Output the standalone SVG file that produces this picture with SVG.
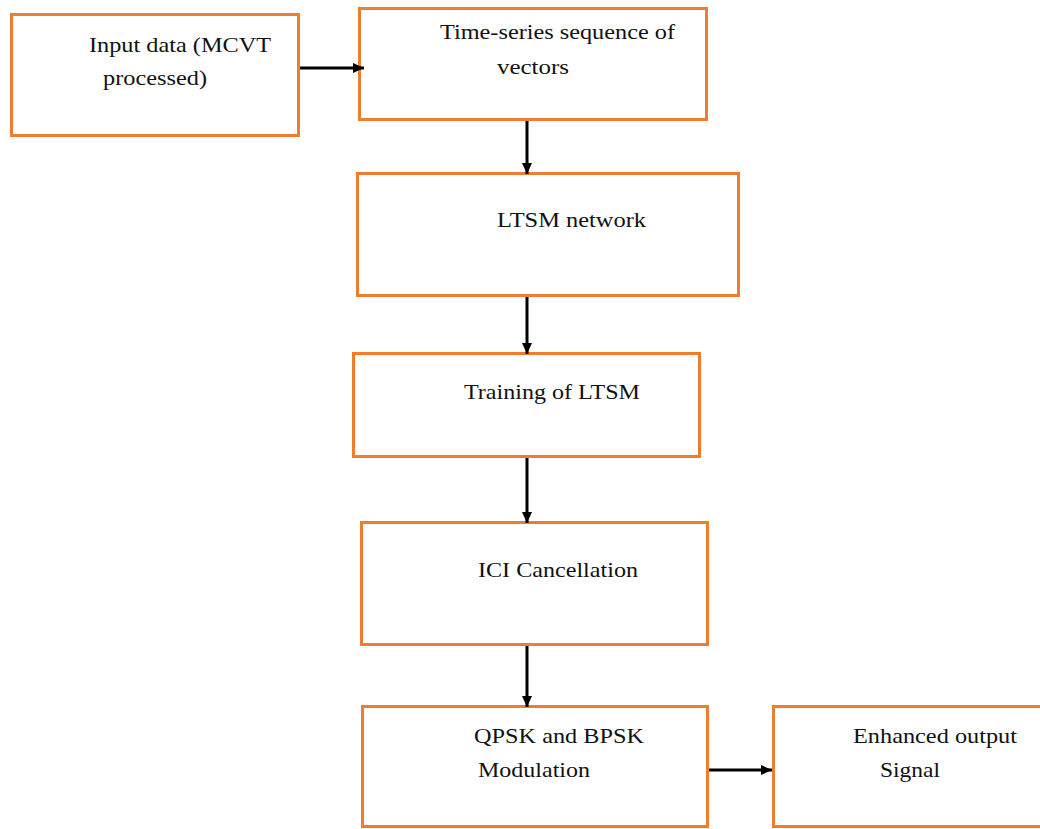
<svg xmlns="http://www.w3.org/2000/svg" width="1040" height="829" viewBox="0 0 1040 829">
<style>
.box{fill:#fff;stroke:#ED7D31;stroke-width:3}
.lbl{font-family:"Liberation Serif","Times New Roman",serif;font-size:22px;fill:#111}
.conn{stroke:#000;stroke-width:3;fill:none;marker-end:url(#ah)}
</style>
<defs>
<marker id="ah" markerUnits="userSpaceOnUse" markerWidth="12" markerHeight="12" refX="11" refY="6" orient="auto">
<path d="M0,1 L11,6 L0,11 Z" fill="#000"/>
</marker>
</defs>
<rect width="1040" height="829" fill="#fff"/>
<g id="n1">
<rect class="box" x="11.5" y="14.5" width="287" height="121"/>
<text class="lbl" x="89" y="52" textLength="182" lengthAdjust="spacingAndGlyphs">Input data (MCVT</text>
<text class="lbl" x="103" y="85" textLength="104" lengthAdjust="spacingAndGlyphs">processed)</text>
</g>
<g id="n2">
<rect class="box" x="359.5" y="8.5" width="347" height="111"/>
<text class="lbl" x="440" y="39" textLength="235" lengthAdjust="spacingAndGlyphs">Time-series sequence of</text>
<text class="lbl" x="497" y="74" textLength="72" lengthAdjust="spacingAndGlyphs">vectors</text>
</g>
<g id="n3">
<rect class="box" x="357.5" y="173.5" width="381" height="122"/>
<text class="lbl" x="497" y="227" textLength="149" lengthAdjust="spacingAndGlyphs">LTSM network</text>
</g>
<g id="n4">
<rect class="box" x="353.5" y="353.5" width="346" height="103"/>
<text class="lbl" x="464" y="399" textLength="176" lengthAdjust="spacingAndGlyphs">Training of LTSM</text>
</g>
<g id="n5">
<rect class="box" x="361.5" y="522.5" width="346" height="122"/>
<text class="lbl" x="478" y="577" textLength="160" lengthAdjust="spacingAndGlyphs">ICI Cancellation</text>
</g>
<g id="n6">
<rect class="box" x="362.5" y="706.5" width="345" height="120"/>
<text class="lbl" x="474" y="743" textLength="170" lengthAdjust="spacingAndGlyphs">QPSK and BPSK</text>
<text class="lbl" x="478" y="777" textLength="112" lengthAdjust="spacingAndGlyphs">Modulation</text>
</g>
<g id="n7">
<rect class="box" x="773.5" y="706.5" width="280" height="120"/>
<text class="lbl" x="853" y="743" textLength="164" lengthAdjust="spacingAndGlyphs">Enhanced output</text>
<text class="lbl" x="880" y="777" textLength="60" lengthAdjust="spacingAndGlyphs">Signal</text>
</g>
<g id="connectors">
<line class="conn" x1="300" y1="68" x2="364" y2="68"/>
<line class="conn" x1="527" y1="121" x2="527" y2="174"/>
<line class="conn" x1="527" y1="297" x2="527" y2="354"/>
<line class="conn" x1="527" y1="458" x2="527" y2="523"/>
<line class="conn" x1="527" y1="646" x2="527" y2="707"/>
<line class="conn" x1="709" y1="770" x2="772" y2="770"/>
</g>
</svg>
